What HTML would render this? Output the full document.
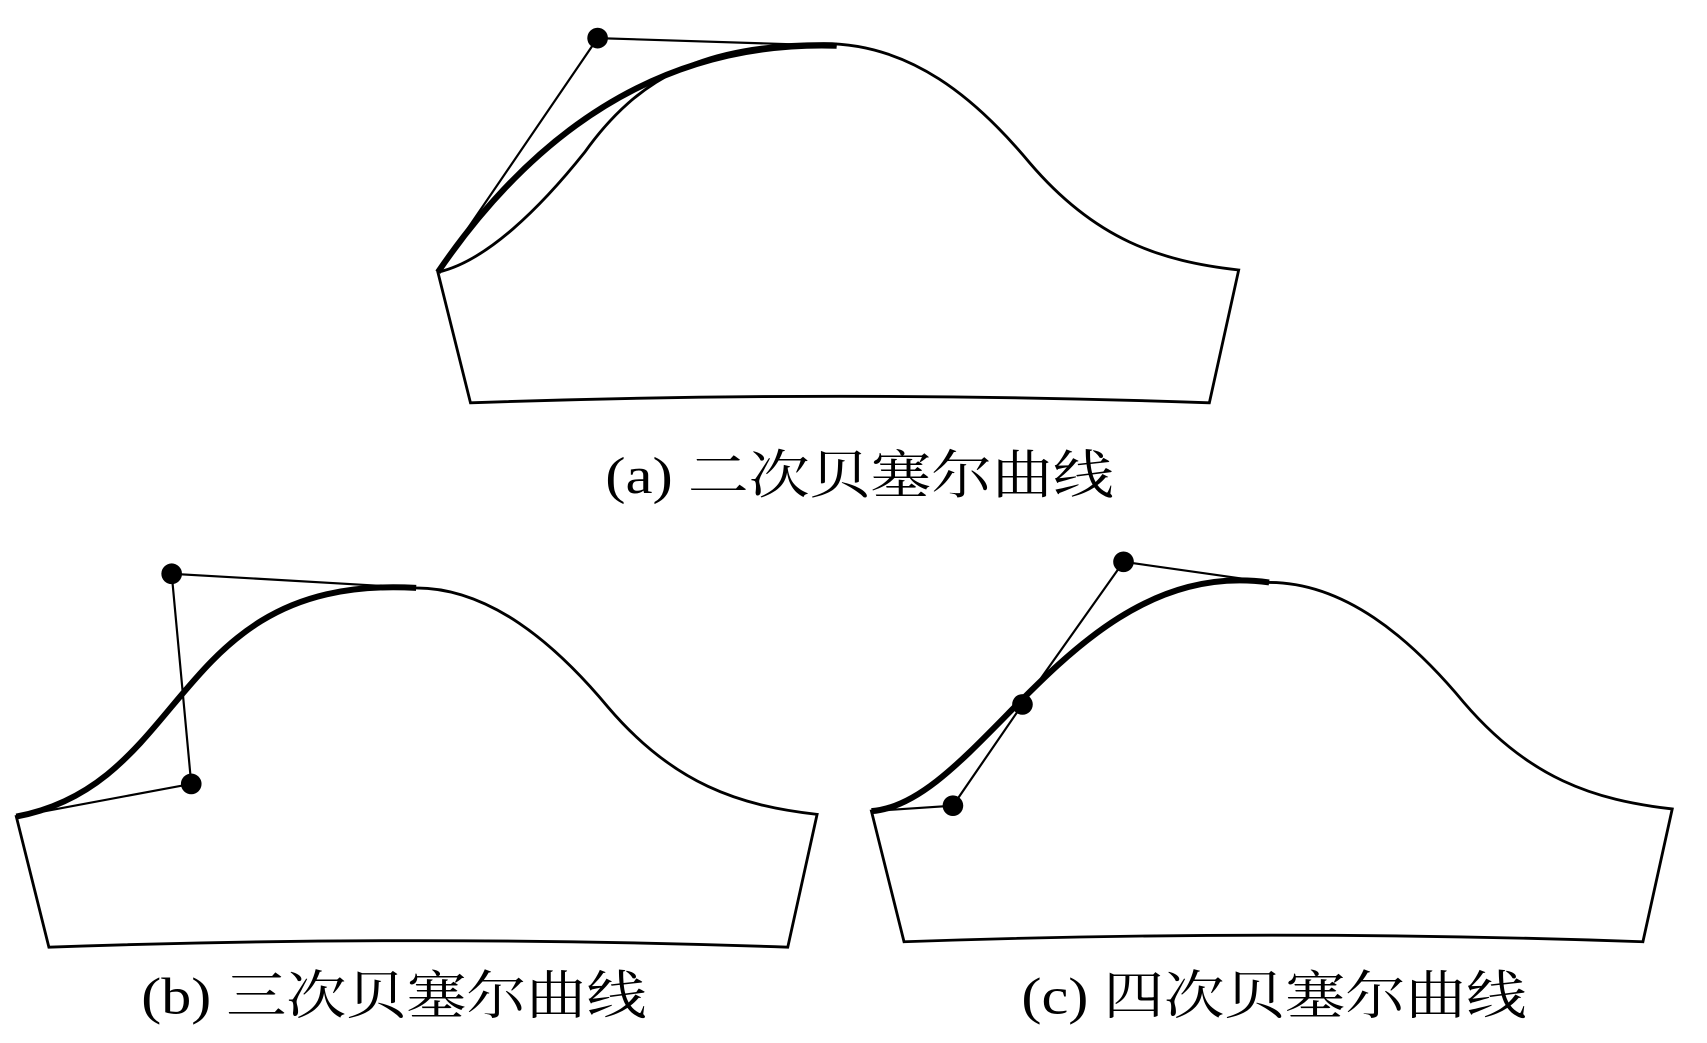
<!DOCTYPE html>
<html><head><meta charset="utf-8"><style>html,body{margin:0;padding:0;background:#fff;}svg{display:block}</style></head>
<body>
<svg width="1707" height="1043" viewBox="0 0 1571 958" preserveAspectRatio="none" xmlns="http://www.w3.org/2000/svg">
<g fill="none" stroke="#000" stroke-width="2.6">
<!-- (a) -->
<path transform="translate(388,-500)" d="M15,750 C60,740 110,690 150,640 C200,570 260,540 370,540 C450,540 510,590 560,650 C620,720 680,740 752,748 L725,870 Q385,858 45,870 Z"/>
<path d="M403,250 Q550,35 770,42" stroke-width="5.5"/>
<polyline points="403,250 550,35 770,42" stroke-width="2"/>
<!-- (b) -->
<path d="M15,750 C176,720 158,527 383,540 C450,540 510,590 560,650 C620,720 680,740 752,748 L725,870 Q385,858 45,870 Z"/>
<path d="M15,750 C176,720 158,527 383,540" stroke-width="5.5"/>
<polyline points="15,750 176,720 158,527 383,540" stroke-width="2"/>
<!-- (c) -->
<path d="M802,745 C902,738 989,510 1168,535 C1237,535 1297,585 1347,645 C1407,715 1467,735 1539,743 L1512,865 Q1172,853 832,865 Z"/>
<path d="M802,745 C902,738 989,510 1168,535" stroke-width="5.5"/>
<polyline points="802,745 877,740 941,647 1034,516 1168,535" stroke-width="2"/>
</g>
<g fill="#000">
<circle cx="550" cy="35" r="9.5"/>
<circle cx="158" cy="527" r="9.5"/>
<circle cx="176" cy="720" r="9.5"/>
<circle cx="877" cy="740" r="9.5"/>
<circle cx="941" cy="647" r="9.5"/>
<circle cx="1034" cy="516" r="9.5"/>
</g>
<g font-family="'Liberation Serif','Noto Serif CJK SC',serif" font-size="48" fill="#000">
<text x="557" y="453" textLength="468" lengthAdjust="spacingAndGlyphs">(a) 二次贝塞尔曲线</text>
<text x="130" y="931" textLength="465" lengthAdjust="spacingAndGlyphs">(b) 三次贝塞尔曲线</text>
<text x="940" y="931" textLength="465" lengthAdjust="spacingAndGlyphs">(c) 四次贝塞尔曲线</text>
</g>
</svg>
</body></html>
